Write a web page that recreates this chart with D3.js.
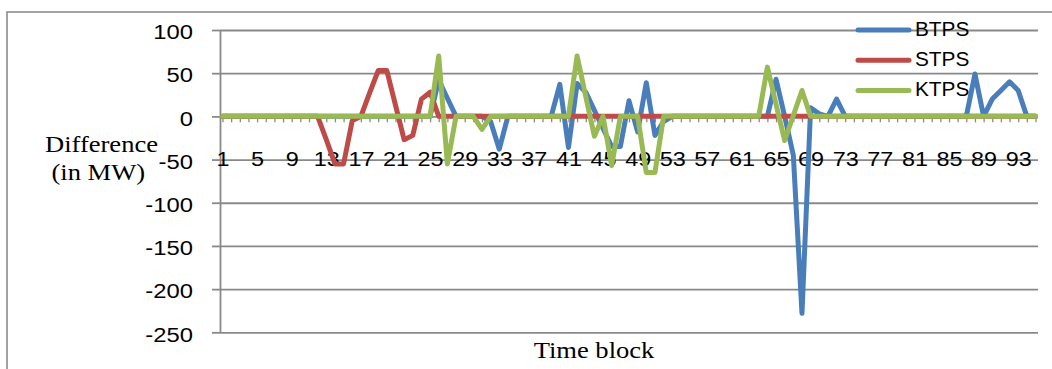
<!DOCTYPE html>
<html>
<head>
<meta charset="utf-8">
<script src="https://cdn.jsdelivr.net/npm/d3@7"></script>
<style>
  body { margin: 0; background: #fff; }
  svg { display: block; }
</style>
</head>
<body>
<svg id="chart" width="1052" height="369"></svg>
<script>
// Time blocks 1..95
const timeBlocks = d3.range(1, 96);

// Difference (MW) per time block
const btps = [
  0, 0, 0, 0, 0, 0, 0, 0, 0, 0,
  0, 0, 0, 0, 0, 0, 0, 0, 0, 0,
  0, 0, 0, 0, 0, 42, 21, 0, 0, 0,
  0, -6, -38, 0, 0, 0, 0, 0, 0, 37,
  -36, 38, 28, 7, -14, -35, -35, 18, -18, 39,
  -22, -6, 0, 0, 0, 0, 0, 0, 0, 0,
  0, 0, 0, 0, 43, 0, -45, -228, 10, 3,
  0, 20, 0, 0, 0, 0, 0, 0, 0, 0,
  0, 0, 0, 0, 0, 0, 0, 49, 0, 20,
  30, 40, 30, 0, 0
];
const stps = [
  0, 0, 0, 0, 0, 0, 0, 0, 0, 0,
  0, 0, -27, -55, -55, -5, 0, 27, 53, 53,
  13, -27, -22, 20, 28, 0, 0, 0, 0, 0,
  0, 0, 0, 0, 0, 0, 0, 0, 0, 0,
  0, 0, 0, 0, 0, 0, 0, 0, 0, 0,
  0, 0, 0, 0, 0, 0, 0, 0, 0, 0,
  0, 0, 0, 0, 0, 0, 0, 0, 0, 0,
  0, 0, 0, 0, 0, 0, 0, 0, 0, 0,
  0, 0, 0, 0, 0, 0, 0, 0, 0, 0,
  0, 0, 0, 0, 0
];
const ktps = [
  0, 0, 0, 0, 0, 0, 0, 0, 0, 0,
  0, 0, 0, 0, 0, 0, 0, 0, 0, 0,
  0, 0, 0, 0, 0, 70, -55, 0, 0, 0,
  -15, 0, 0, 0, 0, 0, 0, 0, 0, 0,
  0, 70, 23, -23, 0, -57, 0, 0, 0, -65,
  -65, 0, 0, 0, 0, 0, 0, 0, 0, 0,
  0, 0, 0, 57, 14, -28, 1, 30, 0, 0,
  0, 0, 0, 0, 0, 0, 0, 0, 0, 0,
  0, 0, 0, 0, 0, 0, 0, 0, 0, 0,
  0, 0, 0, 0, 0
];

const seriesNames = ["BTPS", "STPS", "KTPS"];
const seriesColors = ["#4A7EBB", "#BE4B48", "#98B954"];
const seriesValues = [btps, stps, ktps];

const yTicks = [100, 50, 0, -50, -100, -150, -200, -250];
const xTickLabels = [1, 5, 9, 13, 17, 21, 25, 29, 33, 37, 41, 45, 49, 53, 57, 61, 65, 69, 73, 77, 81, 85, 89, 93];

const svg = d3.select("#chart");
const gray = "#898989";
const sans = "'Liberation Sans', Arial, sans-serif";
const serif = "'Liberation Serif', 'Times New Roman', serif";

// outer chart frame
svg.append("rect")
  .attr("x", 7).attr("y", 12)
  .attr("width", 1060).attr("height", 380)
  .attr("fill", "none").attr("stroke", "#8c8c8c").attr("stroke-width", 1.6);

const plotLeft = 220, plotRight = 1038;
const x = d3.scalePoint().domain(timeBlocks).range([222.5, 1035.5]);
const y = d3.scaleLinear().domain([-250, 100]).range([332.3, 30]);

// horizontal gridlines
const grid = svg.append("g")
  .attr("transform", `translate(${plotLeft},0)`)
  .call(d3.axisLeft(y).tickValues(yTicks).tickSize(-(plotRight - plotLeft)).tickFormat(""));
grid.select(".domain").remove();
grid.selectAll("line").attr("stroke", gray).attr("stroke-width", 1.8);

// value axis with labels (plain hyphen for negatives)
const yAxis = svg.append("g")
  .attr("transform", `translate(${plotLeft},0)`)
  .call(d3.axisLeft(y).tickValues(yTicks).tickSize(8).tickSizeOuter(0).tickFormat(d => String(d)));
yAxis.select(".domain").attr("stroke", gray).attr("stroke-width", 1.8);
yAxis.selectAll("line").attr("stroke", gray).attr("stroke-width", 1.8);
yAxis.selectAll("text")
  .attr("x", null)
  .attr("dy", "0.45em")
  .attr("transform", "translate(-27,0) scale(1.22,1)")
  .attr("text-anchor", "end")
  .attr("fill", "#000")
  .style("font-family", sans)
  .style("font-size", "19.5px");

// category axis tick marks along zero
const xTicks = svg.append("g")
  .attr("transform", `translate(0,${y(0)})`)
  .call(d3.axisBottom(x).tickSize(6).tickSizeOuter(0).tickFormat(""));
xTicks.select(".domain").remove();
xTicks.selectAll("line").attr("stroke", gray).attr("stroke-width", 1.3);

// category labels
const xLabels = svg.append("g")
  .attr("transform", `translate(0,${y(0)})`)
  .call(d3.axisBottom(x).tickValues(xTickLabels).tickSize(0).tickFormat(d => String(d)));
xLabels.select(".domain").remove();
xLabels.selectAll("text")
  .attr("y", 0)
  .attr("dy", "0.35em")
  .attr("transform", "translate(0,42.8) scale(1.2,1)")
  .attr("fill", "#000")
  .style("font-family", sans)
  .style("font-size", "19.5px");

// series lines
const line = d3.line()
  .x((d, i) => x(timeBlocks[i]))
  .y(d => y(d));

seriesValues.forEach((vals, s) => {
  svg.append("path")
    .datum(vals)
    .attr("d", line)
    .attr("fill", "none")
    .attr("stroke", seriesColors[s])
    .attr("stroke-width", 5)
    .attr("stroke-linejoin", "round")
    .attr("stroke-linecap", "round");
});

// legend
const legend = svg.append("g");
seriesNames.forEach((name, i) => {
  const ly = 30 + i * 30.3;
  legend.append("line")
    .attr("x1", 858).attr("x2", 909)
    .attr("y1", ly).attr("y2", ly)
    .attr("stroke", seriesColors[i]).attr("stroke-width", 5)
    .attr("stroke-linecap", "round");
  legend.append("text")
    .attr("transform", `translate(915,${ly - 1.2}) scale(1.04,1)`)
    .attr("dy", "0.35em")
    .style("font-family", sans)
    .style("font-size", "20px")
    .text(name);
});

// axis titles
svg.append("text")
  .attr("transform", "translate(101.5,151.7) scale(1.17,1)")
  .attr("text-anchor", "middle")
  .style("font-family", serif).style("font-size", "22.7px")
  .text("Difference");
svg.append("text")
  .attr("transform", "translate(98.3,180) scale(1.17,1)")
  .attr("text-anchor", "middle")
  .style("font-family", serif).style("font-size", "22.7px")
  .text("(in MW)");
svg.append("text")
  .attr("transform", "translate(594,358) scale(1.17,1)")
  .attr("text-anchor", "middle")
  .style("font-family", serif).style("font-size", "22.7px")
  .text("Time block");
</script>
</body>
</html>
